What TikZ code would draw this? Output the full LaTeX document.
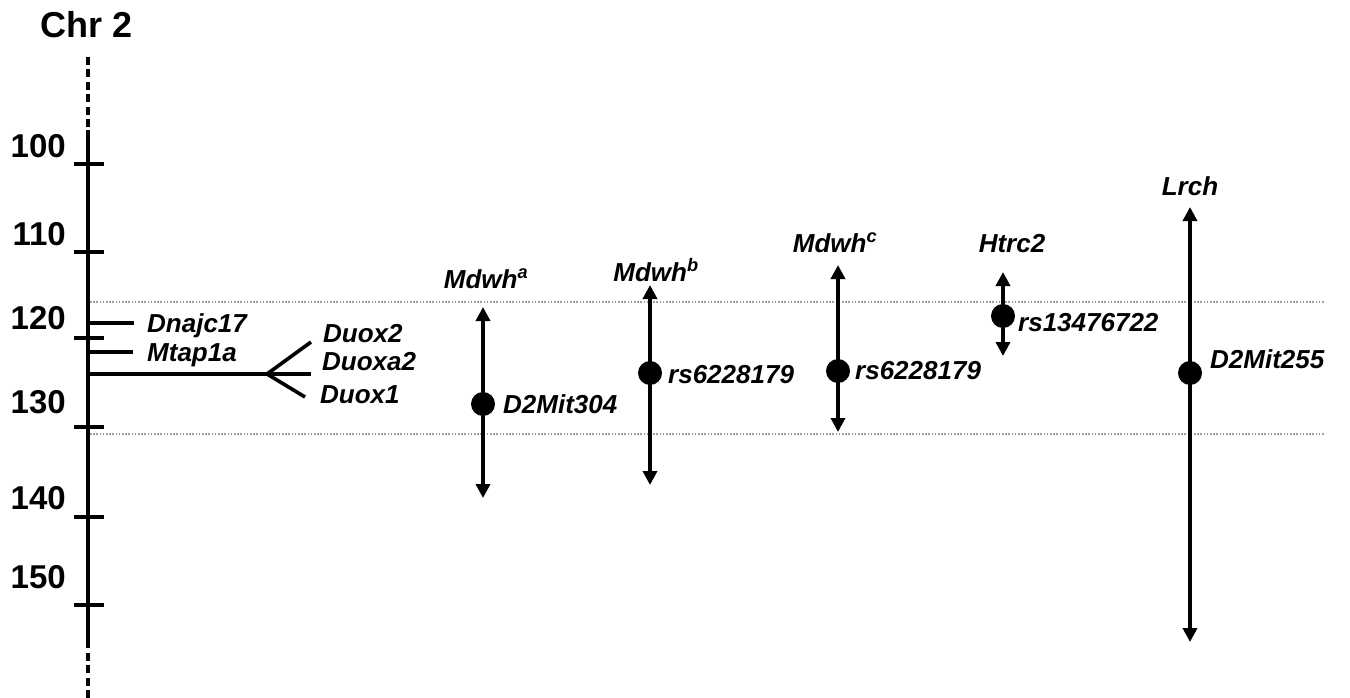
\documentclass[tikz,border=0pt]{standalone}
\usepackage{fontspec}
\setmainfont{Liberation Sans}
\usetikzlibrary{arrows.meta}
\begin{document}
\begin{tikzpicture}[x=1pt,y=-1pt,
  axisline/.style={line width=4pt},
  tickline/.style={line width=3.8pt},
  geneline/.style={line width=3.6pt},
  numlbl/.style={anchor=base east,inner sep=0pt,font=\fontsize{33}{36}\selectfont\bfseries},
  genelbl/.style={anchor=base west,inner sep=0pt,font=\fontsize{26}{30}\selectfont\bfseries\itshape},
  toplbl/.style={anchor=base,inner sep=0pt,font=\fontsize{26}{30}\selectfont\bfseries\itshape},
  rangearrow/.style={line width=3.6pt,{Triangle[width=14pt,length=14pt]}-{Triangle[width=14pt,length=14pt]}},
  dotmark/.style={circle,fill=black,inner sep=0pt,minimum size=24pt},
  bound/.style={gray!75,line width=1.2pt,dash pattern=on 1.6pt off 1.6pt}]
\useasboundingbox (0,0) rectangle (1350,698);
% title
\node[anchor=base west,inner sep=0pt,font=\fontsize{36}{40}\selectfont\bfseries] (chr) at (40,38) {Chr 2};
% axis
\coordinate (atop) at (88,57);
\coordinate (a1) at (88,130);
\coordinate (a2) at (88,640);
\coordinate (abot) at (88,698);
\draw[axisline,dash pattern=on 8pt off 4.5pt] (atop) -- (a1);
\draw[axisline] (a1) -- (a2);
\draw[axisline,dash pattern=on 8pt off 4.5pt] (a2) -- (abot);
% ticks
\foreach \v/\y/\b in {100/164/158,110/252/245,120/338/329,130/427/413,140/517/509,150/605/588}{
  \draw[tickline] (74,\y) -- (104,\y);
  \node[numlbl] (n\v) at (66,\b) {\v};
}
% dotted boundaries
\coordinate (d1a) at (90,302);
\coordinate (d1b) at (1325,302);
\coordinate (d2a) at (90,434);
\coordinate (d2b) at (1325,434);
\draw[bound] (d1a) -- (d1b);
\draw[bound] (d2a) -- (d2b);
% genes
\coordinate (g1a) at (88,323);
\coordinate (g1b) at (134,323);
\draw[geneline] (g1a) -- (g1b);
\node[genelbl] (dnajc) at (147,332) {Dnajc17};
\coordinate (g2a) at (88,352);
\coordinate (g2b) at (133,352);
\draw[geneline] (g2a) -- (g2b);
\node[genelbl] (mtap) at (147,361) {Mtap1a};
\coordinate (g3a) at (88,374);
\coordinate (br) at (267,374);
\coordinate (bu) at (311,342);
\coordinate (bm) at (311,374);
\coordinate (bd) at (305,397);
\draw[geneline] (g3a) -- (br);
\draw[geneline] (br) -- (bu);
\draw[geneline] (br) -- (bm);
\draw[geneline] (br) -- (bd);
\node[genelbl] (duox2) at (323,342) {Duox2};
\node[genelbl] (duoxa2) at (322,370) {Duoxa2};
\node[genelbl] (duox1) at (320,403) {Duox1};
% marker a
\coordinate (at) at (483,307);
\coordinate (ab) at (483,498);
\draw[rangearrow] (at) -- (ab);
\node[dotmark] (adot) at (483,404) {};
\node[toplbl] (alab) at (486,288) {Mdwh\textsuperscript{a}};
\node[genelbl] (amk) at (503,413) {D2Mit304};
% marker b
\coordinate (bt) at (650,285);
\coordinate (bb) at (650,485);
\draw[rangearrow] (bt) -- (bb);
\node[dotmark] (bdot) at (650,373) {};
\node[toplbl] (blab) at (656,281) {Mdwh\textsuperscript{b}};
\node[genelbl] (bmk) at (668,383) {rs6228179};
% marker c
\coordinate (ct) at (838,265);
\coordinate (cb) at (838,432);
\draw[rangearrow] (ct) -- (cb);
\node[dotmark] (cdot) at (838,371) {};
\node[toplbl] (clab) at (835,252) {Mdwh\textsuperscript{c}};
\node[genelbl] (cmk) at (855,379) {rs6228179};
% Htrc2
\coordinate (ht) at (1003,272);
\coordinate (hb) at (1003,356);
\draw[rangearrow] (ht) -- (hb);
\node[dotmark] (hdot) at (1003,316) {};
\node[toplbl] (hlab) at (1012,252) {Htrc2};
\node[genelbl] (hmk) at (1018,331) {rs13476722};
% Lrch
\coordinate (lt) at (1190,207);
\coordinate (lb) at (1190,642);
\draw[rangearrow] (lt) -- (lb);
\node[dotmark] (ldot) at (1190,373) {};
\node[toplbl] (llab) at (1190,195) {Lrch};
\node[genelbl] (lmk) at (1210,368) {D2Mit255};
\end{tikzpicture}
\end{document}
